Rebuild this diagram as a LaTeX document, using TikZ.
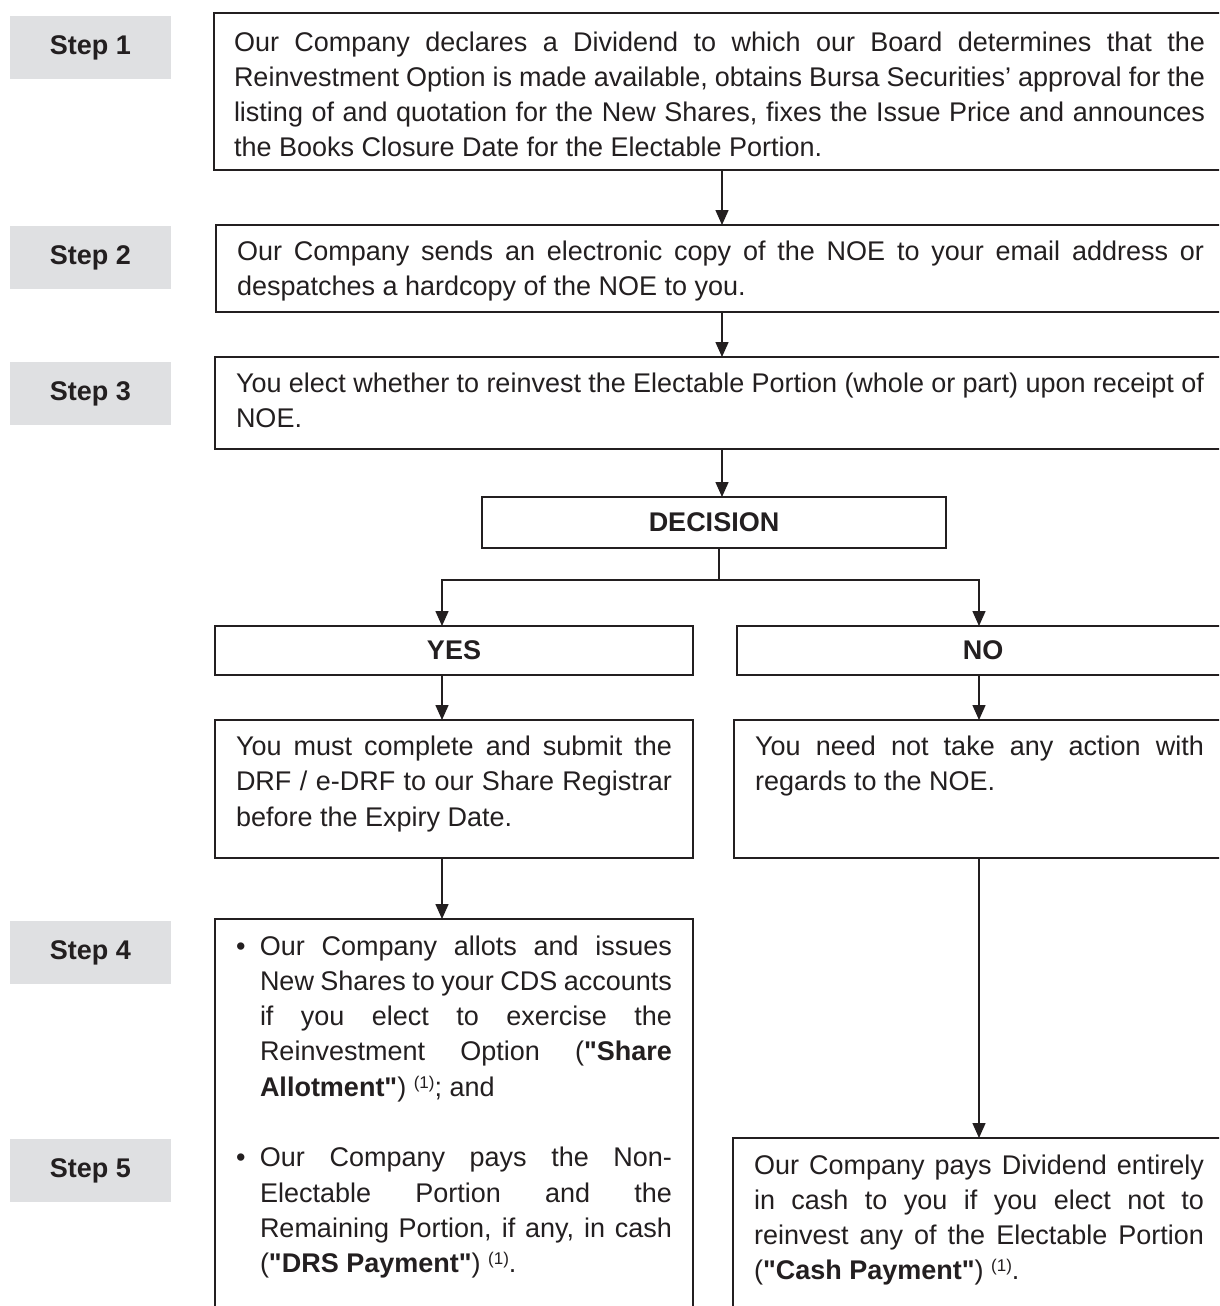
\documentclass[tikz,border=0pt]{standalone}
\usepackage{fontspec}
\newfontfamily\lsans{Liberation Sans}
\usetikzlibrary{arrows.meta}
\definecolor{ink}{HTML}{231F20}
\definecolor{lblgray}{HTML}{DFE0E2}
\hbadness=10000 \hfuzz=60pt
\newcommand\fullln[1]{\hbox to\linewidth{\strut #1}}
\newcommand\lastln[1]{\hbox to\linewidth{\strut #1\hfil}}
\newcommand\bulln[1]{\hbox to\linewidth{\strut\hbox to 24pt{\textbullet\hss}\hbox to\dimexpr\linewidth-24pt\relax{#1}}}
\newcommand\indln[1]{\hbox to\linewidth{\strut\hskip 24pt\hbox to\dimexpr\linewidth-24pt\relax{#1}}}
\newcommand\indlast[1]{\hbox to\linewidth{\strut\hskip 24pt #1\hfil}}
\newcommand\fnref{\raisebox{8pt}{\fontsize{17}{17}\selectfont(1)}}
\newcommand\boxtxt[4]{\parbox[b][#1][t]{#2}{\vspace*{#3}#4}}
\begin{document}
\begin{tikzpicture}[x=1pt,y=-1pt,
  box/.style={draw=ink, line width=1.5pt, anchor=north west, inner xsep=21pt, inner ysep=0pt, outer sep=0pt, text=ink, font=\lsans\fontsize{27}{35.3}\selectfont},
  steplbl/.style={fill=lblgray, anchor=north west, minimum width=161pt, minimum height=63pt, inner sep=0pt, outer sep=0pt, text=ink, font=\lsans\fontsize{27}{35.3}\selectfont\bfseries},
  headbox/.style={draw=ink, line width=1.5pt, anchor=north west, inner sep=0pt, outer sep=0pt, text=ink, font=\lsans\fontsize{27}{35.3}\selectfont\bfseries},
  ln/.style={draw=ink, line width=1.5pt},
  arr/.style={ln, -{Triangle[width=13pt,length=15pt]}}]
\useasboundingbox (0,0) rectangle (1219,1306);
\fill[white] (0,0) rectangle (1219,1306);
\clip (0,0) rectangle (1219,1306);

% step labels
\node[steplbl] (l1) at (10,16) {Step 1};
\node[steplbl] (l2) at (10,226) {Step 2};
\node[steplbl] (l3) at (10,362) {Step 3};
\node[steplbl] (l4) at (10,921) {Step 4};
\node[steplbl] (l5) at (10,1139) {Step 5};

% main boxes
\node[box, inner xsep=20pt] (s1box) at (214,13) {\boxtxt{157pt}{971pt}{13.3pt}{%
\fullln{Our Company declares a Dividend to which our Board determines that the}
\fullln{Reinvestment Option is made available, obtains Bursa Securities’ approval for the}
\fullln{listing of and quotation for the New Shares, fixes the Issue Price and announces}
\lastln{the Books Closure Date for the Electable Portion.}}};

\node[box] (s2box) at (216,225) {\boxtxt{87pt}{967pt}{10.8pt}{%
\fullln{Our Company sends an electronic copy of the NOE to your email address or}
\lastln{despatches a hardcopy of the NOE to you.}}};

\node[box] (s3box) at (215,357) {\boxtxt{92pt}{968pt}{10.8pt}{%
\fullln{You elect whether to reinvest the Electable Portion (whole or part) upon receipt of}
\lastln{NOE.}}};

\node[headbox, minimum width=464pt, minimum height=51pt] (dec) at (482,497) {DECISION};
\node[headbox, minimum width=478pt, minimum height=49pt] (yes) at (215,626) {YES};
\node[headbox, minimum width=492pt, minimum height=49pt] (no) at (737,626) {NO};

\node[box] (yesd) at (215,720) {\boxtxt{138pt}{436pt}{10.8pt}{%
\fullln{You must complete and submit the}
\fullln{DRF / e-DRF to our Share Registrar}
\lastln{before the Expiry Date.}}};

\node[box] (nod) at (734,720) {\boxtxt{138pt}{449pt}{10.8pt}{%
\fullln{You need not take any action with}
\lastln{regards to the NOE.}}};

\node[box] (s45) at (215,919) {\boxtxt{420pt}{436pt}{11.3pt}{%
\bulln{Our Company allots and issues}
\indln{New Shares to your CDS accounts}
\indln{if you elect to exercise the}
\indln{Reinvestment Option (\textbf{"Share}}
\indlast{\textbf{Allotment"}) \fnref; and}
\hbox{\strut}
\bulln{Our Company pays the Non-}
\indln{Electable Portion and the}
\indln{Remaining Portion, if any, in cash}
\indlast{(\textbf{"DRS Payment"}) \fnref.}}};

\node[box] (cash) at (733,1138) {\boxtxt{250pt}{450pt}{11.3pt}{%
\fullln{Our Company pays Dividend entirely}
\fullln{in cash to you if you elect not to}
\fullln{reinvest any of the Electable Portion}
\lastln{(\textbf{"Cash Payment"}) \fnref.}}};

% connectors
\coordinate (xm) at (722,0);
\coordinate (xd) at (719,0);
\coordinate (xy) at (442,0);
\coordinate (xn) at (979,0);
\coordinate (split) at (0,580);

\draw[arr] (s1box.south -| xm) -- (s2box.north -| xm);
\draw[arr] (s2box.south -| xm) -- (s3box.north -| xm);
\draw[arr] (s3box.south -| xm) -- (dec.north -| xm);
\draw[ln] (dec.south -| xd) -- (xd |- split);
\draw[arr] (xd |- split) -| (yes.north -| xy);
\draw[arr] (xd |- split) -| (no.north -| xn);
\draw[arr] (yes.south -| xy) -- (yesd.north -| xy);
\draw[arr] (no.south -| xn) -- (nod.north -| xn);
\draw[arr] (yesd.south -| xy) -- (s45.north -| xy);
\draw[arr] (nod.south -| xn) -- (cash.north -| xn);
\end{tikzpicture}
\end{document}
